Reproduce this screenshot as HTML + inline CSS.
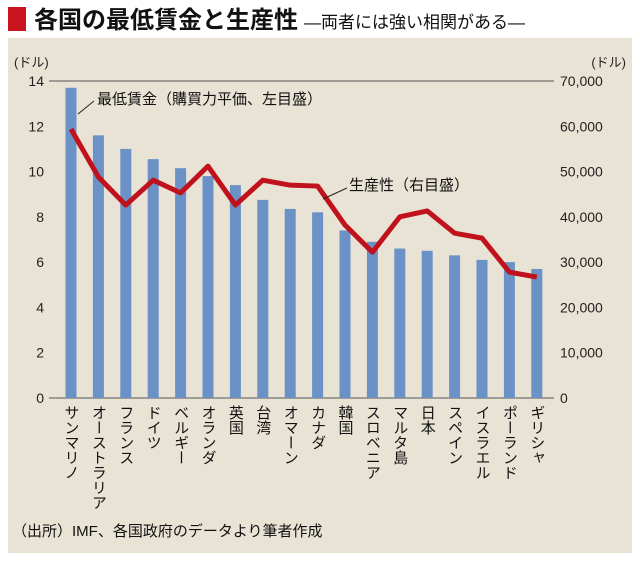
<!DOCTYPE html>
<html><head><meta charset="utf-8"><style>
body{margin:0;background:#fff;width:640px;height:561px;overflow:hidden;font-family:"Liberation Sans","Noto Sans CJK JP",sans-serif}
</style></head><body>
<svg width="640" height="561" font-family="'Liberation Sans','Noto Sans CJK JP',sans-serif">
<rect x="8" y="7" width="18" height="24" fill="#c8141e"/>
<text x="34" y="28" font-size="24" font-weight="bold" fill="#111">各国の最低賃金と生産性<tspan font-size="17" font-weight="normal" dx="6">―両者には強い相関がある―</tspan></text>
<rect x="8" y="38" width="624" height="515" fill="#e9e3d5"/>
<text x="14" y="67" font-size="13" fill="#222">(ドル)</text>
<text x="626" y="67" font-size="13" fill="#222" text-anchor="end">(ドル)</text>
<g id="axes"></g><g id="bars"></g><g id="line"></g><g id="labels"></g>
<line x1="78" y1="114" x2="94" y2="101" stroke="#222" stroke-width="1"/>
<text x="97" y="104" font-size="15" fill="#111">最低賃金（購買力平価、左目盛）</text>
<line x1="347" y1="188" x2="323" y2="199" stroke="#222" stroke-width="1"/>
<text x="349" y="190" font-size="15" fill="#111">生産性（右目盛）</text>
<text x="12" y="536" font-size="15" fill="#111">（出所）IMF、各国政府のデータより筆者作成</text>
</svg>
<script>
const countries=["サンマリノ","オーストラリア","フランス","ドイツ","ベルギー","オランダ","英国","台湾","オマーン","カナダ","韓国","スロベニア","マルタ島","日本","スペイン","イスラエル","ポーランド","ギリシャ"];
const minWage=[13.7,11.6,11.0,10.55,10.15,9.8,9.4,8.75,8.35,8.2,7.4,6.9,6.6,6.5,6.3,6.1,6.0,5.7];
const productivity=[59400,48800,42600,48100,45300,51200,42600,48100,47000,46800,38200,32200,40000,41300,36400,35300,27800,26700];
const leftTicks=[0,2,4,6,8,10,12,14];
const rightTicks=["0","10,000","20,000","30,000","40,000","50,000","60,000","70,000"];
const NS="http://www.w3.org/2000/svg";
const y0=398,yTop=81;
const yL=v=>y0-(v/14)*(y0-yTop);
const yR=v=>y0-(v/70000)*(y0-yTop);
const xC=i=>71+i*27.4;
function mk(t,a,p){const e=document.createElementNS(NS,t);for(const k in a)e.setAttribute(k,a[k]);p.appendChild(e);return e;}
const ax=document.getElementById('axes');
leftTicks.forEach((t,i)=>{
 const tl=mk('text',{x:44,y:yL(t)+5,'font-size':14,'text-anchor':'end',fill:'#222'},ax);tl.textContent=t;
 
 
 const tr=mk('text',{x:560,y:yL(t)+5,'font-size':14,fill:'#222'},ax);tr.textContent=rightTicks[i];
 
 
});
[0,14].forEach(t=>{const l=mk('line',{x1:49,x2:554,y1:yL(t),y2:yL(t),stroke:'#555','stroke-width':1},ax);
 
 });
const bg=document.getElementById('bars');
minWage.forEach((v,i)=>{const r=mk('rect',{x:xC(i)-5.5,y:yL(v),width:11,height:y0-yL(v),fill:'#6b92c6'},bg);
 
 });
const lg=document.getElementById('line');
const p=mk('polyline',{points:productivity.map((v,i)=>xC(i)+','+yR(v)).join(' '),fill:'none',stroke:'#c0121c','stroke-width':5,'stroke-linejoin':'round'},lg);


const lb=document.getElementById('labels');
countries.forEach((c,i)=>{const t=mk('text',{x:xC(i),y:405,'font-size':15,fill:'#111',style:'writing-mode:vertical-rl;glyph-orientation-vertical:0'},lb);t.textContent=c;
 
 });
</script>
</body></html>
